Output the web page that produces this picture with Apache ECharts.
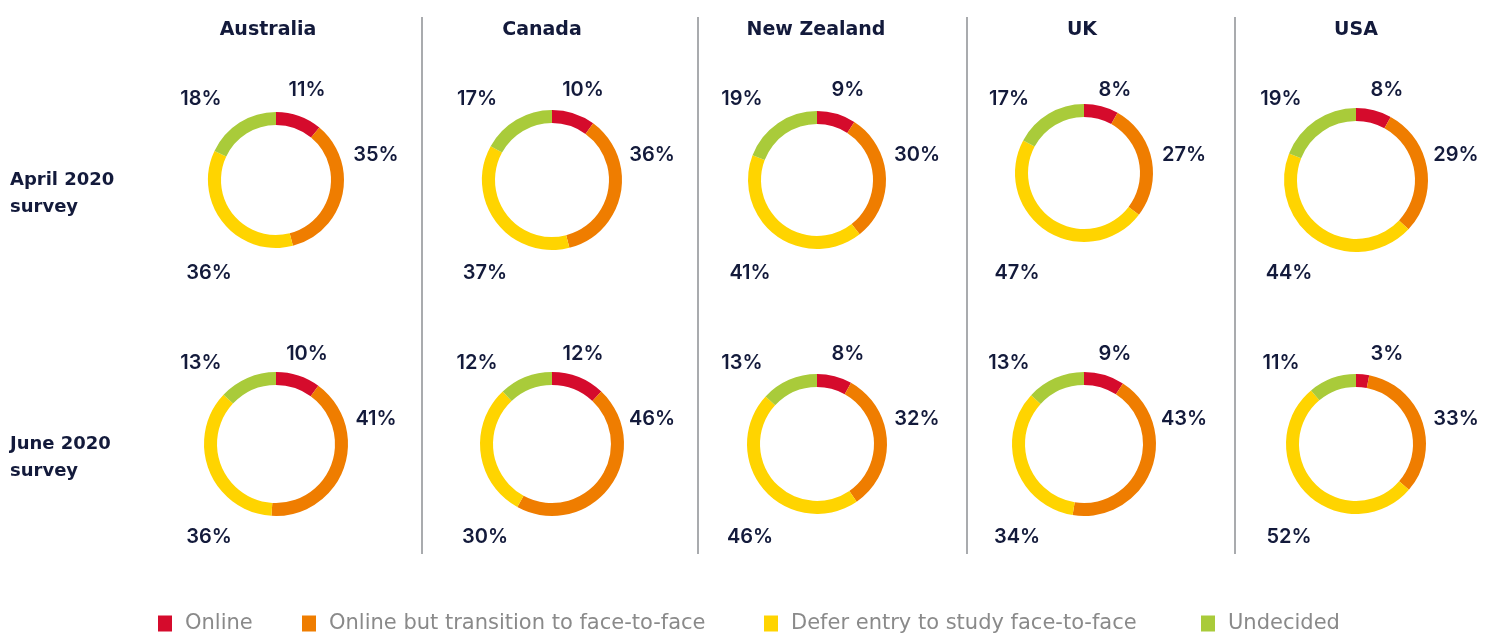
<!DOCTYPE html>
<html>
<head>
<meta charset="utf-8">
<script src="https://cdn.jsdelivr.net/npm/echarts@6/dist/echarts.min.js"></script>
<style>
html,body{margin:0;padding:0;background:#fff;}
#chart{width:1502px;height:641px;}
</style>
</head>
<body>
<div id="chart"></div>
<script>
// ---- data ----
const categories = ['Online', 'Online but transition to face-to-face', 'Defer entry to study face-to-face', 'Undecided'];
const countries = ['Australia', 'Canada', 'New Zealand', 'UK', 'USA'];
const surveys = ['April 2020\nsurvey', 'June 2020\nsurvey'];
const april2020 = [
  [11, 35, 36, 18],
  [10, 36, 37, 17],
  [9, 30, 41, 19],
  [8, 27, 47, 17],
  [8, 29, 44, 19]
];
const june2020 = [
  [10, 41, 36, 13],
  [12, 46, 30, 12],
  [8, 32, 46, 13],
  [9, 43, 34, 13],
  [3, 33, 52, 11]
];

// ---- layout / style ----
const colors = ['#d50b2c', '#ef7d00', '#ffd400', '#a9cb3a'];
const colX = [276, 552, 817, 1084, 1356];
const headerX = [268, 542, 816, 1082, 1356];
const rowY = [180, 444];
const donutY = [[180, 180, 180, 173, 180], [444, 444, 444, 444, 444]];
const donutR = [[68, 70, 69, 69, 72], [72, 72, 70, 72, 70]];
const thickness = 13;
const labelOffsets = [[31, -90], [100, -25], [-67, 93], [-75, -81]];
const sepX = [422, 698, 967, 1235];
const legendLeft = [158, 302, 764, 1201];
const dark = '#131a3b';
const FONT = 'Inter, "Noto Sans", sans-serif';
const HEAD_FONT = '"DejaVu Sans", Inter, sans-serif';

const chart = echarts.init(document.getElementById('chart'), null, {renderer: 'canvas'});

const allData = [april2020, june2020];
const series = [];
const seriesAnchors = [];
allData.forEach((rowData, r) => {
  rowData.forEach((vals, c) => {
    const R = donutR[r][c];
    seriesAnchors.push([colX[c], rowY[r]]);
    series.push({
      type: 'pie',
      name: surveys[r] + ' ' + countries[c],
      center: [colX[c], donutY[r][c]],
      radius: [R - thickness, R],
      startAngle: 90,
      clockwise: true,
      avoidLabelOverlap: false,
      silent: true,
      itemStyle: {borderWidth: 0},
      label: {
        show: true,
        position: 'outside',
        formatter: '{c}%',
        color: dark,
        fontFamily: FONT,
        fontSize: 20,
        fontWeight: 600
      },
      labelLine: {show: false},
      labelLayout: (params) => {
        const a = seriesAnchors[params.seriesIndex];
        const o = labelOffsets[params.dataIndex];
        return {x: a[0] + o[0], y: a[1] + o[1], align: 'center', verticalAlign: 'middle'};
      },
      data: vals.map((v, i) => ({name: categories[i], value: v, itemStyle: {color: colors[i]}}))
    });
  });
});

const graphics = [];
countries.forEach((name, c) => {
  graphics.push({
    type: 'text', x: headerX[c], y: 30,
    style: {text: name, align: 'center', verticalAlign: 'middle', textAlign: 'center', textVerticalAlign: 'middle',
      fill: dark, font: 'bold 19px ' + HEAD_FONT}
  });
});
surveys.forEach((name, r) => {
  graphics.push({
    type: 'text', x: 10, y: rowY[r] + 14,
    style: {text: name, align: 'left', verticalAlign: 'middle', textAlign: 'left', textVerticalAlign: 'middle',
      fill: dark, font: 'bold 18px ' + HEAD_FONT, lineHeight: 27}
  });
});
sepX.forEach(x => {
  graphics.push({
    type: 'line', shape: {x1: x, y1: 17, x2: x, y2: 554},
    style: {stroke: '#a9abae', lineWidth: 2}
  });
});

const legends = categories.map((name, i) => ({
  data: [name],
  left: legendLeft[i],
  top: 613,
  padding: 0,
  icon: 'rect',
  itemWidth: 14,
  itemHeight: 16,
  itemGap: 10,
  selectedMode: false,
  textStyle: {color: '#8a8a8a', fontSize: 21, fontFamily: HEAD_FONT, padding: [0, 0, 0, 8]}
}));

chart.setOption({
  backgroundColor: '#ffffff',
  animation: false,
  color: colors,
  legend: legends,
  graphic: graphics,
  series: series
});
</script>
</body>
</html>
